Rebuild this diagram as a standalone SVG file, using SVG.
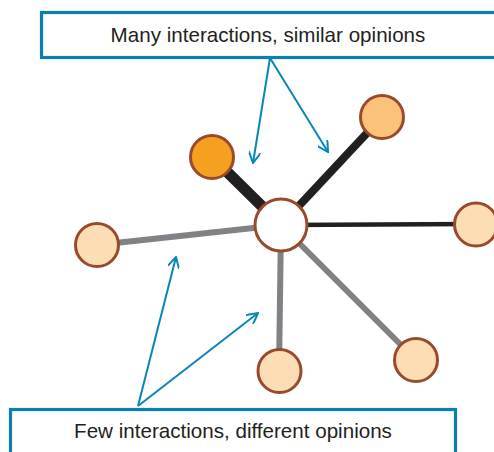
<svg xmlns="http://www.w3.org/2000/svg" width="494" height="452" viewBox="0 0 494 452">
<style>
.box{fill:#fff;stroke:#0a7fb0;stroke-width:3.2}
.lbl{font-family:"Liberation Sans",Arial,sans-serif;font-size:20.6px;fill:#231f20;text-anchor:middle}
.node{stroke:#984a2c;stroke-width:3}
.arr{stroke:#0a85b8;stroke-width:2;fill:none;marker-end:url(#ah)}
</style>
<defs>
<marker id="ah" viewBox="0 0 12 12" refX="11" refY="6" markerWidth="12" markerHeight="12" markerUnits="userSpaceOnUse" orient="auto">
<path d="M0,0 L11,6 L0,12" fill="none" stroke="#0a85b8" stroke-width="2"/>
</marker>
</defs>
<rect width="494" height="452" fill="#fff"/>
<g id="connectors">
<line x1="281" y1="225" x2="212" y2="157" stroke="#231f20" stroke-width="11"/>
<line x1="281" y1="225" x2="382" y2="117" stroke="#231f20" stroke-width="8"/>
<line x1="281" y1="225" x2="476" y2="224" stroke="#231f20" stroke-width="4.5"/>
<line x1="281" y1="225" x2="97" y2="245" stroke="#808285" stroke-width="6"/>
<line x1="281" y1="225" x2="279" y2="371" stroke="#808285" stroke-width="6"/>
<line x1="281" y1="225" x2="416" y2="360" stroke="#808285" stroke-width="6"/>
<line class="arr" x1="270" y1="58" x2="253" y2="163"/>
<line class="arr" x1="270" y1="58" x2="328" y2="152"/>
<line class="arr" x1="138" y1="406" x2="176" y2="257"/>
<line class="arr" x1="138" y1="406" x2="258" y2="313"/>
</g>
<g id="node-center"><circle class="node" cx="281" cy="225" r="26" fill="#fff"/></g>
<g id="node-dark"><circle class="node" cx="212" cy="157" r="21.5" fill="#f5a11f"/></g>
<g id="node-topright"><circle class="node" cx="382" cy="117" r="21.5" fill="#fdc27a"/></g>
<g id="node-right"><circle class="node" cx="476" cy="224.5" r="21.5" fill="#fddeb4"/></g>
<g id="node-left"><circle class="node" cx="97" cy="245" r="21.5" fill="#fddeb4"/></g>
<g id="node-bottom"><circle class="node" cx="279.5" cy="371" r="21.5" fill="#fddeb4"/></g>
<g id="node-bottomright"><circle class="node" cx="416" cy="360" r="21.5" fill="#fddeb4"/></g>
<g id="box-top">
<rect class="box" x="41.5" y="12.5" width="470" height="45"/>
<text class="lbl" x="268" y="42">Many interactions, similar opinions</text>
</g>
<g id="box-bottom">
<rect class="box" x="10.5" y="409.5" width="445" height="50"/>
<text class="lbl" x="233" y="437.5">Few interactions, different opinions</text>
</g>
</svg>
